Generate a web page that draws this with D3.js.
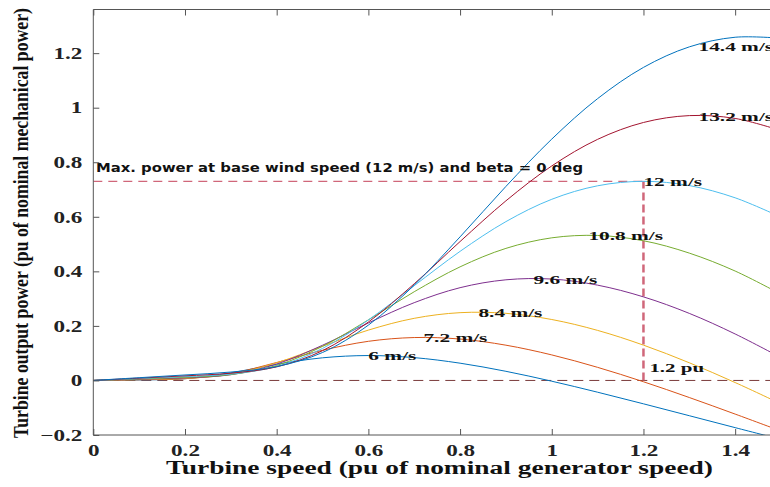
<!DOCTYPE html>
<html>
<head>
<meta charset="UTF-8">
<title>Turbine power characteristics</title>
<script src="https://d3js.org/d3.v7.min.js"></script>
<style>
  * { margin: 0; padding: 0; }
  body { background: #fff; overflow: hidden; }
  svg { display: block; }
  .serif { font-family: "Liberation Serif", "Times New Roman", Times, serif; font-weight: bold; }
</style>
</head>
<body>
<svg id="chart" width="770" height="487"></svg>
<script>
// Turbine speed (pu), sampled every 0.1
const speed = [0, 0.1, 0.2, 0.3, 0.4, 0.5, 0.6, 0.7, 0.8, 0.9, 1.0, 1.1, 1.2, 1.3, 1.4, 1.5];

// Output power (pu) for each wind speed
const p6   = [0, 0.0018, 0.0064, 0.0277, 0.0592, 0.0830, 0.0913, 0.0837, 0.0633, 0.0335, -0.0028, -0.0431, -0.0857, -0.1293, -0.1730, -0.2162];
const p7_2 = [0, 0.0025, 0.0064, 0.0254, 0.0658, 0.1106, 0.1435, 0.1573, 0.1518, 0.1293, 0.0936, 0.0480, -0.0048, -0.0626, -0.1233, -0.1856];
const p8_4 = [0, 0.0034, 0.0074, 0.0226, 0.0648, 0.1255, 0.1846, 0.2278, 0.2485, 0.2461, 0.2234, 0.1835, 0.1295, 0.0648, -0.0077, -0.0859];
const p9_6 = [0, 0.0045, 0.0091, 0.0211, 0.0601, 0.1291, 0.2108, 0.2852, 0.3401, 0.3690, 0.3718, 0.3494, 0.3064, 0.2459, 0.1704, 0.0836];
const p10_8 = [0, 0.0057, 0.0114, 0.0215, 0.0549, 0.1251, 0.2221, 0.3253, 0.4165, 0.4842, 0.5229, 0.5316, 0.5122, 0.4669, 0.4011, 0.3160];
const p12  = [0, 0.0070, 0.0140, 0.0234, 0.0512, 0.1174, 0.2219, 0.3475, 0.4733, 0.5823, 0.6642, 0.7137, 0.7300, 0.7145, 0.6696, 0.5985];
const p13_2 = [0, 0.0085, 0.0169, 0.0267, 0.0498, 0.1092, 0.2142, 0.3544, 0.5092, 0.6585, 0.7865, 0.8840, 0.9458, 0.9710, 0.9606, 0.9158];
const p14_4 = [0, 0.0101, 0.0201, 0.0308, 0.0509, 0.1025, 0.2029, 0.3497, 0.5264, 0.7113, 0.8849, 1.0333, 1.1477, 1.2230, 1.2583, 1.2546];

const windLabels = ["6 m/s", "7.2 m/s", "8.4 m/s", "9.6 m/s", "10.8 m/s", "12 m/s", "13.2 m/s", "14.4 m/s"];
const seriesValues = [p6, p7_2, p8_4, p9_6, p10_8, p12, p13_2, p14_4];
// where each curve label sits (speed, power)
const labelSpeed = [0.60, 0.72, 0.84, 0.96, 1.08, 1.20, 1.32, 1.32];
const labelPower = [0.091, 0.157, 0.249, 0.372, 0.531, 0.730, 0.970, 1.226];

const xTicks = [0, 0.2, 0.4, 0.6, 0.8, 1, 1.2, 1.4];
const yTicks = [-0.2, 0, 0.2, 0.4, 0.6, 0.8, 1, 1.2];

const maxPower = 0.73;   // max power at base wind speed
const baseSpeed = 1.2;   // pu speed at that point

const colors = ["#0072bd", "#d95319", "#edb120", "#7e2f8e", "#77ac30", "#4dbeee", "#a2142f", "#0072bd"];

const svg = d3.select("#chart");
const plotLeft = 93.3, plotTop = 9.5, plotBottom = 435, plotRight = 781;

const x = d3.scaleLinear().domain([0, 1.5]).range([plotLeft, plotRight]);
const y = d3.scaleLinear().domain([-0.2, 1.36]).range([plotBottom, plotTop]);

// stretch text horizontally like the reference
function stretch(sel, f) {
  sel.each(function () {
    const w = this.getComputedTextLength();
    d3.select(this).attr("textLength", w * f).attr("lengthAdjust", "spacingAndGlyphs");
  });
}

svg.append("defs").append("clipPath").attr("id", "plot")
  .append("rect").attr("x", plotLeft).attr("y", plotTop)
  .attr("width", plotRight - plotLeft).attr("height", plotBottom - plotTop);

const g = svg.append("g").attr("clip-path", "url(#plot)");

// reference dashed lines
g.append("line").attr("x1", x(0)).attr("x2", x(1.5)).attr("y1", y(0)).attr("y2", y(0))
  .attr("stroke", "#7a3b3b").attr("stroke-width", 1).attr("stroke-dasharray", "10,6");
g.append("line").attr("x1", x(0)).attr("x2", x(baseSpeed)).attr("y1", y(maxPower)).attr("y2", y(maxPower))
  .attr("stroke", "#d0677a").attr("stroke-width", 1.2).attr("stroke-dasharray", "9,6");
g.append("line").attr("x1", x(baseSpeed)).attr("x2", x(baseSpeed)).attr("y1", y(0)).attr("y2", y(maxPower))
  .attr("stroke", "#d0677a").attr("stroke-width", 2.5).attr("stroke-dasharray", "8,4");

// curves
const line = d3.line().x((d, i) => x(speed[i])).y(d => y(d)).curve(d3.curveCatmullRom.alpha(0.5));
g.selectAll("path.curve").data(seriesValues).join("path")
  .attr("class", "curve")
  .attr("d", line)
  .attr("fill", "none")
  .attr("stroke", (d, i) => colors[i])
  .attr("stroke-width", 1);

// curve labels
const labels = svg.append("g").selectAll("text").data(windLabels).join("text")
  .attr("class", "serif")
  .attr("x", (d, i) => x(labelSpeed[i]))
  .attr("y", (d, i) => y(labelPower[i]))
  .attr("dy", "0.35em")
  .style("font-size", "13.5px")
  .attr("fill", "#111")
  .text(d => d);
stretch(labels, 1.58);

const puLabel = svg.append("text").attr("class", "serif")
  .attr("x", x(1.213)).attr("y", y(0.048)).attr("dy", "0.35em")
  .style("font-size", "13.5px")
  .attr("fill", "#111").text("1.2 pu");
stretch(puLabel, 1.55);

svg.append("text").attr("x", 96).attr("y", 172)
  .style("font-family", "'DejaVu Sans', sans-serif").style("font-weight", "bold").style("font-size", "11.5px")
  .attr("fill", "#111")
  .attr("textLength", 487).attr("lengthAdjust", "spacingAndGlyphs")
  .text("Max. power at base wind speed (12 m/s) and beta = 0 deg");

// axes box
const axisColor = "#555";
svg.append("line").attr("x1", plotLeft).attr("x2", plotRight).attr("y1", plotTop).attr("y2", plotTop).attr("stroke", axisColor);
svg.append("line").attr("x1", plotLeft).attr("x2", plotRight).attr("y1", plotBottom).attr("y2", plotBottom).attr("stroke", axisColor);
svg.append("line").attr("x1", plotLeft).attr("x2", plotLeft).attr("y1", plotTop).attr("y2", plotBottom).attr("stroke", axisColor);

const xAxis = svg.append("g").attr("transform", `translate(0,${plotBottom})`)
  .call(d3.axisBottom(x).tickValues(xTicks).tickFormat(d3.format("~g")).tickSize(-6).tickPadding(10));
const yAxis = svg.append("g").attr("transform", `translate(${plotLeft},0)`)
  .call(d3.axisLeft(y).tickValues(yTicks).tickFormat(d3.format("~g")).tickSize(-6).tickPadding(11));
svg.append("g").attr("transform", `translate(0,${plotTop})`)
  .call(d3.axisTop(x).tickValues(xTicks).tickFormat("").tickSize(-6))
  .call(a => a.select(".domain").remove())
  .call(a => a.selectAll(".tick line").attr("stroke", axisColor));

[xAxis, yAxis].forEach(a => {
  a.attr("font-family", null).attr("font-size", null);
  a.select(".domain").remove();
  a.selectAll(".tick line").attr("stroke", axisColor);
  a.selectAll(".tick text")
    .attr("class", "serif")
    .style("font-size", "16.5px")
    .attr("fill", "#222");
});
xAxis.selectAll(".tick text").attr("dy", "0.68em");
stretch(xAxis.selectAll(".tick text"), 1.4);
stretch(yAxis.selectAll(".tick text"), 1.4);

// axis titles
svg.append("text").attr("class", "serif").attr("x", 439.5).attr("y", 474)
  .attr("text-anchor", "middle")
  .style("font-size", "18px")
  .attr("fill", "#111")
  .attr("textLength", 547).attr("lengthAdjust", "spacingAndGlyphs")
  .text("Turbine speed (pu of nominal generator speed)");

svg.append("text").attr("class", "serif").attr("transform", "translate(28,223) rotate(-90)")
  .attr("text-anchor", "middle")
  .style("font-size", "21px")
  .attr("fill", "#111")
  .attr("textLength", 430).attr("lengthAdjust", "spacingAndGlyphs")
  .text("Turbine output power (pu of nominal mechanical power)");
</script>
</body>
</html>
